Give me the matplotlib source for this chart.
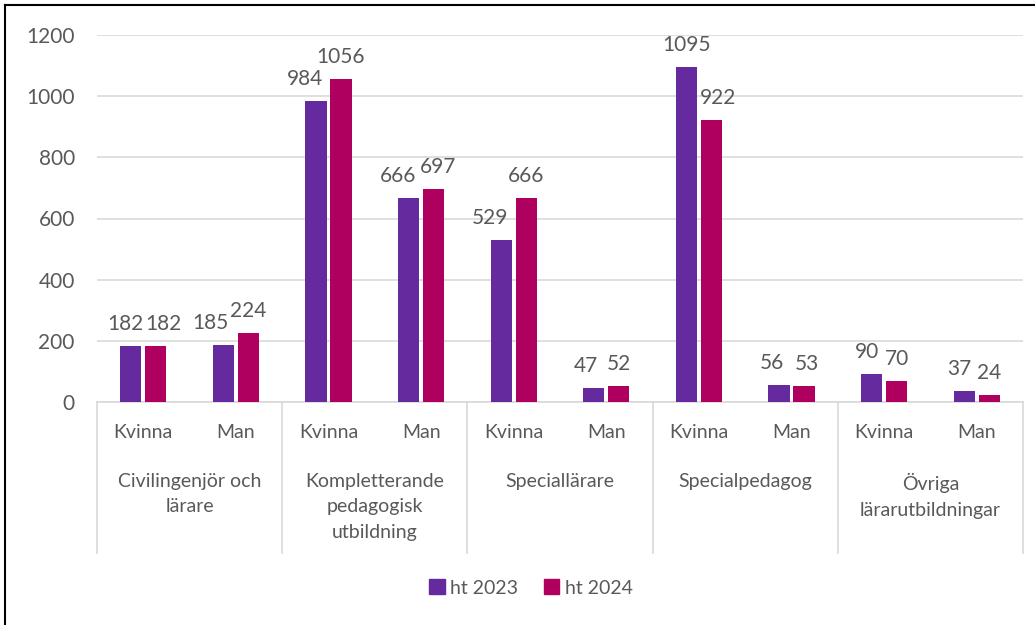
import numpy as np
import matplotlib.pyplot as plt
from matplotlib.transforms import blended_transform_factory
from matplotlib.lines import Line2D
from matplotlib.patches import Patch

plt.rcParams['font.family'] = ['Lato', 'DejaVu Sans']

groups = ["Civilingenjör och\nlärare", "Kompletterande\npedagogisk\nutbildning",
          "Speciallärare", "Specialpedagog", "Övriga\nlärarutbildningar"]
sexes = ["Kvinna", "Man"]
ht2023 = [182, 185, 984, 666, 529, 47, 1095, 56, 90, 37]
ht2024 = [182, 224, 1056, 697, 666, 52, 922, 53, 70, 24]
# horizontal nudges (px) of data labels so neighbours don't collide, like Excel does
nudge23 = [-5, -13, -11, -11, -11, -8, 0, -7, -5, -5]
nudge24 = [8, 0, 0, 4, 0, 0, 7, 3, 0, 0]

c23 = '#652A9E'
c24 = '#AF0060'
grey = '#595959'
light = '#D9D9D9'

W, H = 1035, 625
fig = plt.figure(figsize=(W / 100, H / 100), dpi=100)
ax = fig.add_axes([97 / W, 1 - 402 / H, (1023 - 97) / W, (402 - 35) / H])

x = np.arange(len(ht2023))
bw = 0.23
b1 = ax.bar(x - 0.135, ht2023, bw, color=c23, zorder=3)
b2 = ax.bar(x + 0.135, ht2024, bw, color=c24, zorder=3)
for bars, nudge in ((b1, nudge23), (b2, nudge24)):
    for r, dx in zip(bars, nudge):
        ax.annotate(str(int(r.get_height())), (r.get_x() + r.get_width() / 2, r.get_height()),
                    xytext=(dx, 12), textcoords='offset pixels', ha='center', va='bottom',
                    fontsize=15, color=grey)

ax.set_xlim(-0.5, len(x) - 0.5)
ax.set_ylim(0, 1200)
ax.set_yticks(range(0, 1201, 200))
ax.tick_params(axis='y', length=0, labelsize=15, labelcolor=grey, pad=16)
ax.set_xticks([])
ax.yaxis.grid(True, color=light, linewidth=1.2)
ax.set_axisbelow(True)
for s in ['top', 'right', 'left']:
    ax.spines[s].set_visible(False)
ax.spines['bottom'].set_color(light)
ax.spines['bottom'].set_linewidth(1.2)

tr = blended_transform_factory(ax.transData, ax.transAxes)
px = 1 / (402 - 35)
for i in range(len(x)):
    ax.text(i, -31 * px, sexes[i % 2], transform=tr, ha='center', va='center',
            fontsize=14, color=grey)
for g, name in enumerate(groups):
    ax.text(2 * g + 0.5, -71 * px, name, transform=tr, ha='center', va='top',
            fontsize=14, color=grey, linespacing=1.6)
for b in range(len(groups) + 1):
    ax.add_line(Line2D([2 * b - 0.5, 2 * b - 0.5], [0, -151 * px], transform=tr,
                       color=light, linewidth=1.2, clip_on=False))

handles = [Patch(color=c23, label='ht 2023'), Patch(color=c24, label='ht 2024')]
fig.legend(handles=handles, loc='center', bbox_to_anchor=(531 / W, 1 - 588 / H), ncol=2,
           frameon=False, fontsize=14, labelcolor=grey, handlelength=0.8, handleheight=0.8,
           handletextpad=0.3, columnspacing=1.3)

# frame around the figure
fig.add_artist(Line2D([5 / W, 5 / W], [0, 1 - 5 / H], color='black', linewidth=1.5))
fig.add_artist(Line2D([5 / W, 1], [1 - 5 / H, 1 - 5 / H], color='black', linewidth=1.5))

fig.savefig('out.png', dpi=100)
